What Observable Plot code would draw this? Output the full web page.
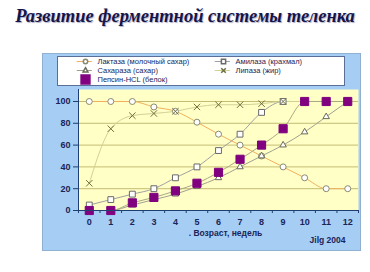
<!DOCTYPE html>
<html><head><meta charset="utf-8">
<script src="https://cdn.jsdelivr.net/npm/d3@7"></script>
<script src="https://cdn.jsdelivr.net/npm/@observablehq/plot@0.6"></script>
<style>
body{margin:0;background:#fff;}
#wrap{position:relative;width:370px;height:272px;overflow:hidden;}
#title{position:absolute;left:0;top:6px;width:370px;text-align:center;font:bold italic 18.5px "Liberation Serif",serif;color:#15154a;text-shadow:1px 1px 1px #b0b0c8;white-space:nowrap;}
#main{position:absolute;left:0;top:0;}
#legend{position:absolute;left:57px;top:56px;}
</style></head>
<body><div id="wrap"><div id="title">Развитие ферментной системы теленка</div><div id="main"></div><div id="legend"></div></div>
<script>
const titleText = "Развитие ферментной системы теленка";
const weeks = [0,1,2,3,4,5,6,7,8,9,10,11,12];
const seriesNames = ["Лактаза (молочный сахар)","Амилаза (крахмал)","Сахараза (сахар)","Липаза (жир)","Пепсин-HCL (белок)"];
const lactase    = [100,100,100,95,91,81,70,60,50,40,30,20,20];
const amylase    = [5,10,15,20,30,40,55,70,90,100,100,100,100];
const saccharase = [0,0,5,10,15,22,30,40,50,60,72,86,100];
const lipase     = [25,75,87,89,91,95,97,97,98,100,100,100,100];
const pepsin     = [0,0,7,12,18,25,35,47,60,75,100,100,100];
const yTicks = [0,20,40,60,80,100];
const xLabel = ". Возраст, недель";
const sourceText = "Jilg 2004";

const values = [lactase, amylase, saccharase, lipase, pepsin];
const styles = [
  {line:"#f0b060", symbol:"circle", r:3, fill:"white", stroke:"#8a8a70"},
  {line:"#a0a0a0", symbol:"square", r:3.3, fill:"white", stroke:"#6a6a6a"},
  {line:"#a0a090", symbol:"triangle", r:2.4, fill:"white", stroke:"#6a6a58"},
  {line:"#d2d296", symbol:"times", r:3.0, fill:"none", stroke:"#6e6e40"},
  {line:"#a8a884", symbol:"square", r:4.6, fill:"#800080", stroke:"#800080"}
];
const legendR = [2.2, 2.4, 1.8, 2.2, 5];
const rows = [];
seriesNames.forEach((name, i) => weeks.forEach((w, j) => rows.push({series: i, name, week: w, value: values[i][j]})));

const txt = "#1a2458";
const marks = [
  Plot.frame({fill:"#a6cdf4", stroke:"#8fb0d0", insetLeft:-36, insetRight:-2, insetTop:-36, insetBottom:-40}),
  Plot.frame({fill:"#ffffc6"}),
  Plot.ruleY(yTicks.filter(d => d > 0), {stroke:"#c4bc74", strokeWidth:1})
];
styles.forEach((s, i) => {
  const data = rows.filter(d => d.series === i);
  marks.push(Plot.line(data, {x:"week", y:"value", stroke:s.line, strokeWidth:1, curve:"monotone-x"}));
});
styles.forEach((s, i) => {
  const data = rows.filter(d => d.series === i);
  marks.push(Plot.dot(data, {x:"week", y:"value", symbol:()=>s.symbol, r:s.r, fill:s.fill, stroke:s.stroke, strokeWidth:1}));
});
marks.push(
  Plot.ruleY([0], {stroke:"#1f3f70"}),
  Plot.ruleX([-0.5], {stroke:"#1f3f70"}),
  Plot.axisY({ticks:yTicks, tickSize:5, tickPadding:3, stroke:"#1f3f70", fill:txt, fontWeight:"bold", fontSize:9, label:null}),
  Plot.axisX({ticks:weeks, tickSize:0, tickPadding:8, fill:txt, fontWeight:"bold", fontSize:9, label:null}),
  Plot.axisX({ticks:d3.range(-0.5, 13, 1), tickSize:3, tickFormat:()=>"", stroke:"#1f3f70", label:null}),
  Plot.text([xLabel], {text:d=>d, frameAnchor:"bottom", dx:7, dy:25, fill:txt, fontWeight:"bold", fontSize:8.5}),
  Plot.text([sourceText], {text:d=>d, frameAnchor:"bottom-right", textAnchor:"end", dx:-13, dy:32, fill:txt, fontWeight:"bold", fontSize:8.5})
);

const chart = Plot.plot({
  width:370, height:272,
  marginLeft:78, marginRight:12, marginTop:89, marginBottom:62,
  style:{background:"transparent", fontFamily:"'Liberation Sans', Arial, sans-serif", overflow:"visible"},
  x:{type:"linear", domain:[-0.5,12.5], axis:null},
  y:{domain:[0,111], axis:null},
  symbol:{type:"identity"},
  marks
});
document.getElementById("main").appendChild(chart);

// legend
const legendItems = seriesNames.map((name, i) => ({name, i, col: [0,1,0,1,0][i], row: [0,0,1,1,2][i]}));
const legend = Plot.plot({
  width:287, height:29, margin:0,
  style:{background:"transparent", fontFamily:"'Liberation Sans', Arial, sans-serif", overflow:"visible"},
  x:{domain:[0,1], range:[28,166], axis:null},
  y:{domain:[0,2], range:[5,23], axis:null},
  symbol:{type:"identity"},
  marks:[
    Plot.frame({fill:"white", stroke:"#5a6e98"}),
    Plot.ruleY(legendItems.filter(d => d.i !== 4), {y:"row", x1:d=>d.col-0.06, x2:d=>d.col+0.05, stroke:d=>styles[d.i].line}),
    ...legendItems.map(d => Plot.dot([d], {x:"col", y:"row", symbol:()=>styles[d.i].symbol, r:legendR[d.i], fill:styles[d.i].fill, stroke:styles[d.i].stroke})),
    Plot.text(legendItems, {x:"col", y:"row", text:"name", dx:12, textAnchor:"start", fill:txt, fontSize:7.5})
  ]
});
document.getElementById("legend").appendChild(legend);
</script></body></html>
